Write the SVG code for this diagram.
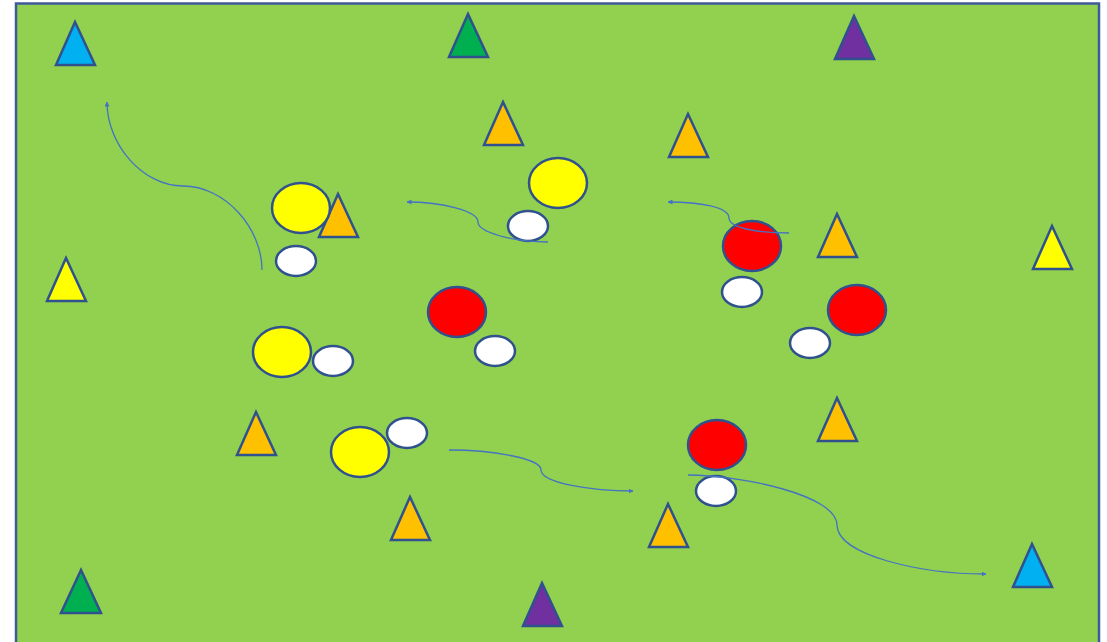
<svg xmlns="http://www.w3.org/2000/svg" width="1107" height="642" viewBox="0 0 1107 642">
<style>
.tri{stroke:#2F528F;stroke-width:2.5;stroke-linejoin:miter}
.ball{stroke:#2F528F;stroke-width:2.5}
.orange{fill:#FFC000}.blue{fill:#00B0F0}.green{fill:#00B050}.purple{fill:#7030A0}.yellow{fill:#FFFF00}.red{fill:#FF0000}.white{fill:#FFFFFF}
.run{fill:none;stroke:#4472C4;stroke-width:1.3;marker-end:url(#ah)}
</style>
<defs>
<marker id="ah" viewBox="0 0 10 10" refX="9" refY="5" markerWidth="5" markerHeight="5" orient="auto" markerUnits="userSpaceOnUse">
<path d="M0,0 L10,5 L0,10 z" fill="#4472C4"/>
</marker>
</defs>
<rect x="0" y="0" width="1107" height="642" fill="#FFFFFF"/>
<rect id="field" x="16" y="3.5" width="1083" height="650" fill="#92D050" stroke="#3F5A9A" stroke-width="2.5"/>
<g id="cones">
<polygon id="cone1" class="tri blue" points="75,22 56,65 95,65"/>
<polygon id="cone2" class="tri green" points="468,14 449,57 488,57"/>
<polygon id="cone3" class="tri purple" points="854,16 835,59 874,59"/>
<polygon id="cone4" class="tri orange" points="503,102 484,145 523,145"/>
<polygon id="cone5" class="tri orange" points="688,114 669,157 708,157"/>
<polygon id="cone6" class="tri orange" points="338,194 319,237 358,237"/>
<polygon id="cone7" class="tri orange" points="837,214 818,257 857,257"/>
<polygon id="cone8" class="tri yellow" points="1052,226 1033,269 1072,269"/>
<polygon id="cone9" class="tri yellow" points="66,258 47,301 86,301"/>
<polygon id="cone10" class="tri orange" points="256,412 237,455 276,455"/>
<polygon id="cone11" class="tri orange" points="837,398 818,441 857,441"/>
<polygon id="cone12" class="tri orange" points="410,497 391,540 430,540"/>
<polygon id="cone13" class="tri orange" points="668,504 649,547 688,547"/>
<polygon id="cone14" class="tri blue" points="1032,544 1013,587 1052,587"/>
<polygon id="cone15" class="tri green" points="81,570 61,613 101,613"/>
<polygon id="cone16" class="tri purple" points="542,583 523,626 562,626"/>
</g>
<g id="players">
<ellipse id="y1" class="ball yellow" cx="301" cy="208" rx="29" ry="25"/>
<ellipse id="y2" class="ball yellow" cx="558" cy="183" rx="29" ry="25"/>
<ellipse id="y3" class="ball yellow" cx="282" cy="352" rx="29" ry="25"/>
<ellipse id="y4" class="ball yellow" cx="360" cy="452" rx="29" ry="25"/>
<ellipse id="r1" class="ball red" cx="752" cy="246" rx="29" ry="25"/>
<ellipse id="r2" class="ball red" cx="457" cy="312" rx="29" ry="25"/>
<ellipse id="r3" class="ball red" cx="857" cy="310" rx="29" ry="25"/>
<ellipse id="r4" class="ball red" cx="717" cy="445" rx="29" ry="25"/>
</g>
<g id="balls">
<ellipse id="b1" class="ball white" cx="296" cy="261" rx="20" ry="15"/>
<ellipse id="b2" class="ball white" cx="528" cy="226" rx="20" ry="15"/>
<ellipse id="b3" class="ball white" cx="333" cy="361" rx="20" ry="15"/>
<ellipse id="b4" class="ball white" cx="495" cy="351" rx="20" ry="15"/>
<ellipse id="b5" class="ball white" cx="742" cy="292" rx="20" ry="15"/>
<ellipse id="b6" class="ball white" cx="810" cy="343" rx="20" ry="15"/>
<ellipse id="b7" class="ball white" cx="407" cy="433" rx="20" ry="15"/>
<ellipse id="b8" class="ball white" cx="716" cy="491" rx="20" ry="15"/>
</g>
<g id="connectors">
<path class="run" d="M262,270 C262,228 225,186 183,186 C143,186 107,145 107,102"/>
<path class="run" d="M548,242 C512,242 478,232 478,222 C478,211 442,202 407,202"/>
<path class="run" d="M789,233 C758,233 729,228 729,218 C729,207 700,202 668,202"/>
<path class="run" d="M449,450 C490,450 541,458 541,470 C541,483 592,491 633,491"/>
<path class="run" d="M688,475 C740,475 837,495 837,525 C837,555 920,574 986,574"/>
</g>
</svg>
